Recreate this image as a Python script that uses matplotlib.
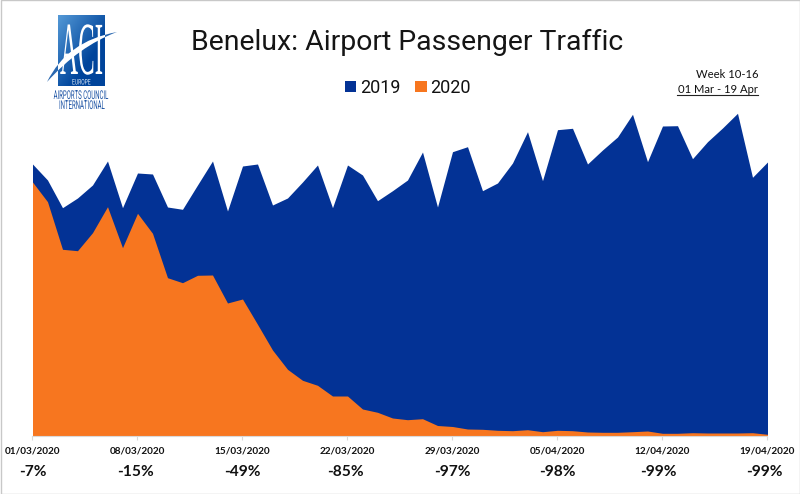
import matplotlib
matplotlib.use("Agg")
import matplotlib.pyplot as plt
import matplotlib.dates as mdates
import numpy as np
import pandas as pd
from matplotlib.patches import PathPatch, Rectangle
from matplotlib.patheffects import AbstractPathEffect
from matplotlib.path import Path
from matplotlib.transforms import Affine2D, IdentityTransform

W, H = 800, 494

# values (no scale shown, so arbitrary units)
days = pd.date_range("2020-03-01", "2020-04-19")
pax_2019 = [271.7, 255.7, 228, 237.7, 250.7, 274.7, 228, 262.7, 261.7, 228.7,
            226.4, 250.7, 274.7, 224.7, 269.7, 271.7, 230.7, 237.7, 253.7, 270.7,
            228, 270.7, 260.7, 235, 245, 255.7, 283.7, 228.7, 284, 289,
            245, 252.7, 272.7, 304, 255, 306, 307.4, 271.7, 285.7, 298.7,
            321.4, 274, 309.7, 310, 277, 294, 307.7, 322.4, 258.4, 273.7]
pax_2020 = [253.7, 234, 186.4, 185, 203, 229, 188, 222.4, 202.4, 158,
            153, 160.4, 160.7, 132.7, 136.7, 111.4, 85.7, 66.4, 55.4, 50.4,
            39.7, 39.7, 26.7, 23.4, 17.7, 16, 17, 10.2, 9.2, 6.7,
            6.4, 5.4, 5, 6, 4, 5.4, 5, 3.7, 3.4, 3.4,
            4, 4.7, 2.4, 2.4, 3, 2.7, 2.7, 2.7, 3, 1.4]
pct_labels = ["-7%", "-15%", "-49%", "-85%", "-97%", "-98%", "-99%", "-99%"]
pct_nudge = [0.5, -2, 0, -2.5, 0, 0, -4, -3.5]

BLUE = "#033295"
ORANGE = "#F7761F"


class Squash(AbstractPathEffect):
    # scale a text around its anchor, the logo lettering is very condensed
    def __init__(self, sx, sy, px, py):
        super().__init__()
        self.tr = Affine2D().translate(-px, -(H - py)).scale(sx, sy).translate(px, H - py)

    def draw_path(self, renderer, gc, tpath, affine, rgbFace=None):
        renderer.draw_path(gc, tpath, affine + self.tr, rgbFace)


def logo_text(ax, px, py, s, size, sx, sy, color, **kw):
    ax.text(px, py, s, fontsize=size, color=color, ha="center", va="baseline",
            path_effects=[Squash(sx, sy, px, py)], **kw)


fig = plt.figure(figsize=(W / 100, H / 100), dpi=100, facecolor="white")

ax = fig.add_axes([32.5 / W, 1 - 435.7 / H, 735 / W, 335.7 / H])
ax.fill_between(days, pax_2019, color=BLUE, lw=0, label="2019")
ax.fill_between(days, pax_2020, color=ORANGE, lw=0, label="2020")
ax.set_xlim(days[0], days[-1])
ax.set_ylim(0, 335.7)
ax.patch.set_alpha(0)
ax.yaxis.set_visible(False)
for side in ["left", "right", "top"]:
    ax.spines[side].set_visible(False)
ax.spines["bottom"].set_color("#d9d9d9")

ticks = days[::7]
ax.set_xticks(ticks)
ax.xaxis.set_major_formatter(mdates.DateFormatter("%d/%m/%Y"))
ax.tick_params(axis="x", length=3, width=0.8, color="#d9d9d9", pad=4.5)
for lab in ax.get_xticklabels():
    lab.set_fontfamily("Lato")
    lab.set_fontweight("bold")
    lab.set_fontsize(7.2)
    lab.set_color("#111111")

for t, s, dx in zip(ticks, pct_labels, pct_nudge):
    ax.annotate(s, (t, 0), xytext=(dx * 0.72, -29), textcoords="offset points",
                ha="center", va="baseline", fontfamily="Lato", fontweight="bold",
                fontsize=11.2, color="#111111", annotation_clip=False)

leg = ax.legend(loc="center", bbox_to_anchor=(408, H - 88), bbox_transform=IdentityTransform(),
                ncol=2, frameon=False, handlelength=0.62, handleheight=0.62,
                handletextpad=0.2, columnspacing=0.82,
                prop={"family": "Roboto", "size": 13})
for txt in leg.get_texts():
    txt.set_color("#111111")

# page furniture in pixel coordinates
over = fig.add_axes([0, 0, 1, 1], zorder=-1)
over.set_axis_off()

over.text(407, 42, "Benelux: Airport Passenger Traffic", ha="center", va="center",
          fontfamily="Roboto", fontsize=20.4, color="#151515")
over.text(758, 74, "Week 10-16", ha="right", va="center", fontfamily="Lato",
          fontsize=8.1, color="#111111")
over.text(758, 89.5, "01 Mar - 19 Apr", ha="right", va="center", fontfamily="Lato",
          fontsize=8.1, color="#111111")
over.plot([677, 758], [95, 95], color="#222222", lw=0.8)

# ACI logo
grad = np.linspace(0, 1, 60)
gx, gy = np.meshgrid(grad, grad)
shade = np.clip((gx + gy) / 1.3, 0, 1)[..., None]
over.imshow(np.array([0.33, 0.60, 0.84]) * (1 - shade) + np.array([0.0, 0.27, 0.61]) * shade,
            extent=(58, 105, 86, 15), aspect="auto", interpolation="bilinear")

swoosh = Path([(47, 82), (67, 41), (117, 32), (117, 32), (79, 46), (47, 82), (47, 82)],
              [Path.MOVETO, Path.CURVE3, Path.CURVE3, Path.LINETO, Path.CURVE3, Path.CURVE3,
               Path.CLOSEPOLY])
over.add_patch(PathPatch(swoosh, facecolor="#2a68b0", lw=0))

logo_text(over, 81.5, 74, "ACI", 18, 1.0, 3.0, "white", fontfamily="Liberation Serif")
inner = PathPatch(swoosh, facecolor="white", lw=0)
over.add_patch(inner)
inner.set_clip_path(Rectangle((58, 15), 47, 71, transform=over.transData))

logo_text(over, 81.5, 84.5, "EUROPE", 5, 0.72, 1.1, "#dce8f5", fontfamily="Roboto")
logo_text(over, 81, 99, "AIRPORTS COUNCIL", 7, 0.62, 1.25, "#1f55a5", fontfamily="Roboto")
logo_text(over, 82, 109, "INTERNATIONAL", 7, 0.62, 1.25, "#1f55a5", fontfamily="Roboto")

over.add_patch(Rectangle((0.5, 0.5), W - 1, H - 1, fill=False, edgecolor="#c8c8c8", lw=1))
over.set_xlim(0, W)
over.set_ylim(H, 0)

fig.savefig("out.png", dpi=100)
